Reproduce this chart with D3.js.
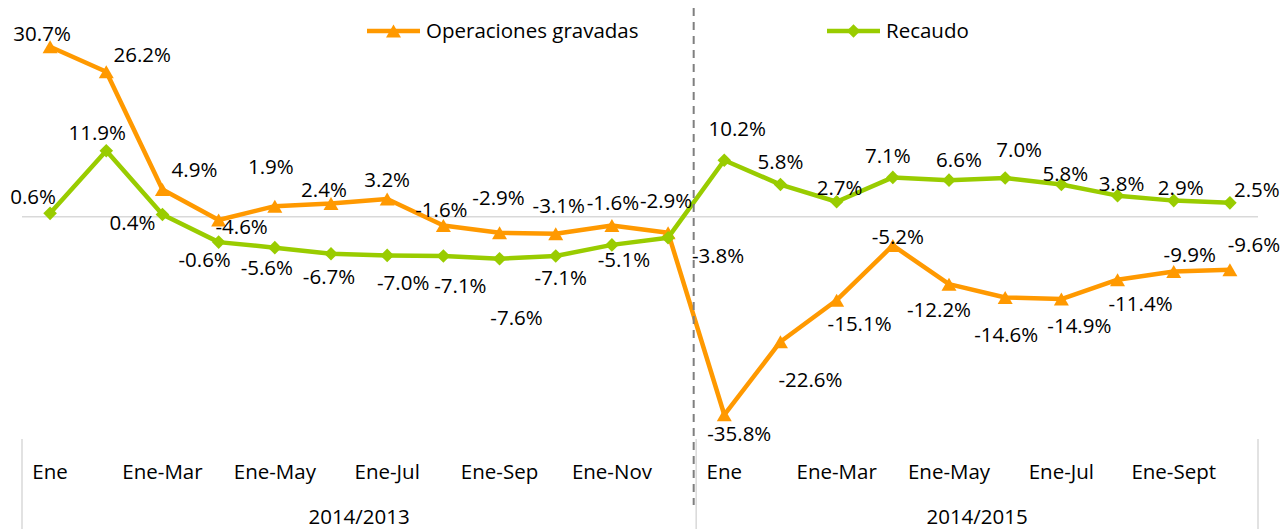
<!DOCTYPE html>
<html lang="es">
<head>
<meta charset="utf-8">
<script src="https://cdn.jsdelivr.net/npm/d3@7/dist/d3.min.js"></script>
<style>
  html, body { margin: 0; padding: 0; background: #ffffff; }
  svg { display: block; font-family: "Open Sans", "DejaVu Sans", sans-serif; }
</style>
</head>
<body>
<svg id="chart" width="1286" height="529"></svg>
<script>
// Periodos y meses acumulados
const periods = ["2014/2013", "2014/2015"];
const months2013 = ["Ene", "Ene-Feb", "Ene-Mar", "Ene-Abr", "Ene-May", "Ene-Jun",
                    "Ene-Jul", "Ene-Ago", "Ene-Sep", "Ene-Oct", "Ene-Nov", "Ene-Dic"];
const months2015 = ["Ene", "Ene-Feb", "Ene-Mar", "Ene-Abr", "Ene-May", "Ene-Jun",
                    "Ene-Jul", "Ene-Ago", "Ene-Sept", "Ene-Oct"];

// Variación anual (%)
const operaciones = [30.7, 26.2, 4.9, -0.6, 1.9, 2.4, 3.2, -1.6, -2.9, -3.1, -1.6, -2.9,
                     -35.8, -22.6, -15.1, -5.2, -12.2, -14.6, -14.9, -11.4, -9.9, -9.6];
const recaudo = [0.6, 11.9, 0.4, -4.6, -5.6, -6.7, -7.0, -7.1, -7.6, -7.1, -5.1, -3.8,
                 10.2, 5.8, 2.7, 7.1, 6.6, 7.0, 5.8, 3.8, 2.9, 2.5];

const seriesNames = ["Operaciones gravadas", "Recaudo"];

// Desplazamiento de cada etiqueta respecto a su punto (px)
const operacionesLabelOffsets = [[-8,-13],[36,-17],[32,-20],[-14,40],[-4,-39],[-7,-14],[0,-19],[-2,-16],
  [-1,-35],[3,-28],[1,-23],[-2,-32],[15,19],[30,38],[23,23],[5,-9],[-10,26],[1,37],[18,27],[23,24],[16,-17],[24,-25]];
const recaudoLabelOffsets = [[-17,-17],[-9,-18],[-30,8],[23,-15],[-8,20],[-2,23],[16,27],[17,30],
  [17,59],[5,22],[12,15],[50,18],[13,-32],[0,-23],[3,-14],[-5,-22],[10,-20],[14,-28],[4,-11],[4,-12],[7,-13],[27,-13]];

const ORANGE = "#ff9900";
const GREEN = "#99cc00";
const GRID = "#d9d9d9";
const FONT_SIZE = 20.5;

// Categorías con clave única: periodo|mes
const keys = [
  ...months2013.map(m => periods[0] + "|" + m),
  ...months2015.map(m => periods[1] + "|" + m)
];
const monthOf = k => k.split("|")[1];

const svg = d3.select("#chart");

const x = d3.scaleBand().domain(keys).range([22, 1258]).padding(0);
const y = d3.scaleLinear().domain([-40, 35]).range([438, 23]);
const cx = i => x(keys[i]) + x.bandwidth() / 2;

// Línea de cero
svg.append("line")
  .attr("x1", x.range()[0]).attr("x2", x.range()[1])
  .attr("y1", y(0)).attr("y2", y(0))
  .attr("stroke", GRID).attr("stroke-width", 1.5);

// Eje de categorías (un rótulo de cada dos)
const xAxis = d3.axisBottom(x)
  .tickSize(0)
  .tickFormat((k, i) => (keys.indexOf(k) % 2 === 0 ? monthOf(k) : ""));
const gx = svg.append("g").attr("transform", "translate(0,479)").call(xAxis);
gx.select(".domain").remove();
gx.selectAll("text")
  .attr("y", 0).attr("dy", 0)
  .attr("fill", "#000")
  .style("font-size", FONT_SIZE + "px")
  .style("font-family", "'Open Sans', sans-serif");

// Separadores de periodo en el eje
const boundaries = [0, months2013.length, keys.length];
boundaries.forEach(b => {
  const bx = b < keys.length ? x(keys[b]) : x.range()[1];
  svg.append("line")
    .attr("x1", bx).attr("x2", bx)
    .attr("y1", 439).attr("y2", 529)
    .attr("stroke", GRID).attr("stroke-width", 1.5);
});

// Rótulos de periodo
periods.forEach((p, pi) => {
  const x0 = x(keys[boundaries[pi]]);
  const x1 = boundaries[pi + 1] < keys.length ? x(keys[boundaries[pi + 1]]) : x.range()[1];
  svg.append("text")
    .attr("x", (x0 + x1) / 2).attr("y", 524)
    .attr("text-anchor", "middle")
    .attr("font-size", FONT_SIZE)
    .attr("fill", "#000")
    .text(p);
});

const triangle = "M0,-6.5L7.5,6.5L-7.5,6.5Z";
const diamond = "M0,-6.8L6.8,0L0,6.8L-6.8,0Z";

const line = d3.line().x((d, i) => cx(i)).y(d => y(d));

function drawSeries(values, color, marker) {
  svg.append("path")
    .datum(values)
    .attr("d", line)
    .attr("fill", "none")
    .attr("stroke", color)
    .attr("stroke-width", 4.5)
    .attr("stroke-linejoin", "round");
  svg.append("g").selectAll("path")
    .data(values)
    .join("path")
    .attr("d", marker)
    .attr("transform", (d, i) => `translate(${cx(i)},${y(d)})`)
    .attr("fill", color);
}

drawSeries(operaciones, ORANGE, triangle);
drawSeries(recaudo, GREEN, diamond);

// Etiquetas de datos
function drawLabels(values, offsets) {
  svg.append("g").selectAll("text")
    .data(values)
    .join("text")
    .attr("x", (d, i) => cx(i) + offsets[i][0])
    .attr("y", (d, i) => y(d) + offsets[i][1] + 7.3)
    .attr("text-anchor", "middle")
    .attr("font-size", FONT_SIZE)
    .attr("fill", "#000")
    .text(d => d.toFixed(1) + "%");
}
drawLabels(operaciones, operacionesLabelOffsets);
drawLabels(recaudo, recaudoLabelOffsets);

// Línea discontinua que separa los periodos
const sepX = x(keys[months2013.length]) - 2.5;
svg.append("line")
  .attr("x1", sepX).attr("x2", sepX)
  .attr("y1", 8).attr("y2", 505)
  .attr("stroke", "#7f7f7f")
  .attr("stroke-width", 2)
  .attr("stroke-dasharray", "8,6");

// Leyenda
const legendItems = [
  { name: seriesNames[0], color: ORANGE, marker: triangle, x: 367 },
  { name: seriesNames[1], color: GREEN, marker: diamond, x: 827 }
];
const lg = svg.append("g");
legendItems.forEach(it => {
  lg.append("line")
    .attr("x1", it.x).attr("x2", it.x + 53)
    .attr("y1", 31).attr("y2", 31)
    .attr("stroke", it.color).attr("stroke-width", 4.5);
  lg.append("path")
    .attr("d", it.marker)
    .attr("transform", `translate(${it.x + 26.5},31)`)
    .attr("fill", it.color);
  lg.append("text")
    .attr("x", it.x + 59).attr("y", 38.3)
    .attr("font-size", FONT_SIZE)
    .attr("fill", "#000")
    .text(it.name);
});
</script>
</body>
</html>
